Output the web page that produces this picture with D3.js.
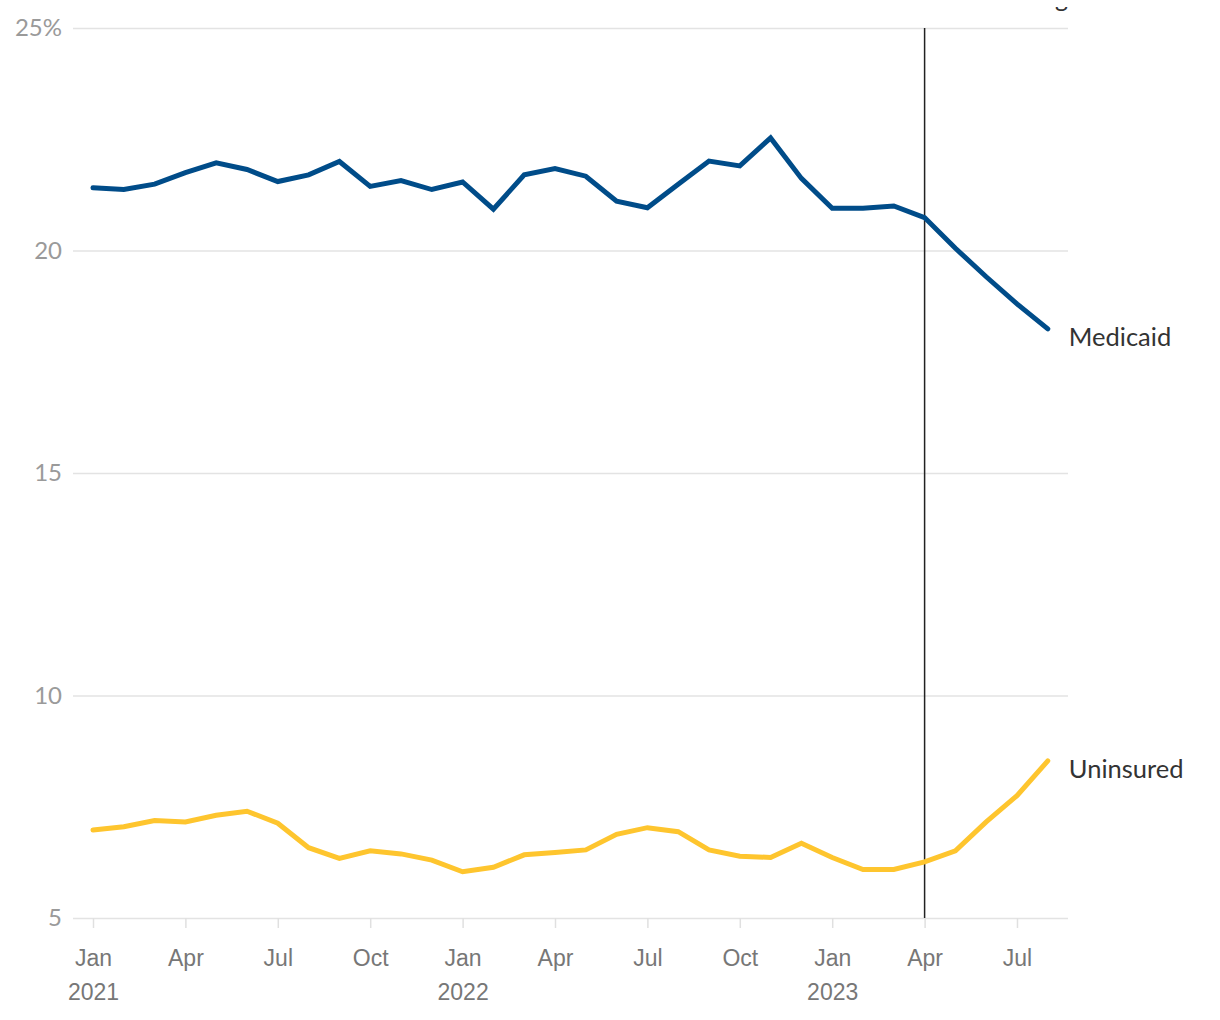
<!DOCTYPE html>
<html>
<head>
<meta charset="utf-8">
<script src="https://cdn.jsdelivr.net/npm/d3@7"></script>
<style>
  html, body { margin: 0; padding: 0; background: #fff; }
  svg { display: block; font-family: Lato, "Noto Sans", sans-serif; }
</style>
</head>
<body>
<svg id="chart" width="1220" height="1020"></svg>
<script>
// Month index 0 = Jan 2021 ... 31 = Aug 2023
const months = d3.range(0, 32);
const medicaid = [21.41, 21.37, 21.49, 21.75, 21.97, 21.82, 21.55, 21.70, 22.00, 21.44,
                  21.57, 21.37, 21.54, 20.93, 21.70, 21.84, 21.67, 21.11, 20.96, 21.49,
                  22.01, 21.90, 22.53, 21.62, 20.95, 20.95, 21.00, 20.74, 20.05, 19.41,
                  18.80, 18.24];
const uninsured = [6.98, 7.05, 7.19, 7.16, 7.31, 7.40, 7.13, 6.58, 6.34, 6.51,
                   6.44, 6.30, 6.04, 6.14, 6.42, 6.47, 6.53, 6.88, 7.03, 6.94,
                   6.53, 6.39, 6.36, 6.68, 6.36, 6.09, 6.09, 6.26, 6.51, 7.16,
                   7.75, 8.53];
const seriesNames = ["Medicaid", "Uninsured"];
const seriesColors = ["#004c89", "#fec52e"];
const yTicks = [5, 10, 15, 20, 25];
const xTicks = [0, 3, 6, 9, 12, 15, 18, 21, 24, 27, 30];
const monthNames = ["Jan", "Feb", "Mar", "Apr", "May", "Jun", "Jul", "Aug", "Sep", "Oct", "Nov", "Dec"];
const markerMonth = 27; // Apr 2023
const markerLabel = "Medicaid unwinding";

const svg = d3.select("#chart");
const mLeft = 73, mRight = 1068, mTop = 28, mBottom = 918;

const x = d3.scaleLinear().domain([0, 30]).range([93, 1017]);
const y = d3.scaleLinear().domain([5, 25]).range([mBottom, mTop]);

// gridlines + y labels
const yAxis = d3.axisLeft(y).tickValues(yTicks)
  .tickSize(-(mRight - mLeft))
  .tickFormat(d => d === 25 ? d + "%" : d)
  .tickPadding(11);
const gy = svg.append("g").attr("transform", `translate(${mLeft},0)`).call(yAxis);
gy.select(".domain").remove();
gy.selectAll(".tick line").attr("stroke", "#e3e3e3").attr("stroke-width", 1.5);
gy.selectAll(".tick text").attr("fill", "#9a9a9a").style("font-size", "24px")
  .style("font-family", "Lato, sans-serif");

// x axis
const xAxis = d3.axisBottom(x).tickValues(xTicks).tickSize(10).tickFormat("");
const gx = svg.append("g").attr("transform", `translate(0,${mBottom})`).call(xAxis);
gx.select(".domain").remove();
gx.selectAll(".tick line").attr("stroke", "#e0e0e0").attr("stroke-width", 1.5);
const tickG = gx.selectAll(".tick");
tickG.append("text")
  .attr("y", 48).attr("text-anchor", "middle").attr("fill", "#777")
  .style("font-size", "23px")
  .text(d => monthNames[d % 12]);
tickG.filter(d => d % 12 === 0).append("text")
  .attr("y", 82).attr("text-anchor", "middle").attr("fill", "#777")
  .style("font-size", "23px")
  .text(d => 2021 + d / 12);

// marker line
svg.append("line")
  .attr("x1", x(markerMonth)).attr("x2", x(markerMonth))
  .attr("y1", mTop).attr("y2", mBottom)
  .attr("stroke", "#222").attr("stroke-width", 1.5);

// clipped annotation (only descender visible at top, as in the reference)
svg.append("defs").append("clipPath").attr("id", "annClip")
  .append("rect").attr("x", 0).attr("y", 7).attr("width", 1220).attr("height", 30);
svg.append("text")
  .attr("clip-path", "url(#annClip)")
  .attr("x", mRight).attr("y", 7).attr("text-anchor", "end")
  .attr("fill", "#333").style("font-size", "25px")
  .text(markerLabel);

// lines
const line = d3.line().x((d, i) => x(months[i])).y(d => y(d));
[medicaid, uninsured].forEach((vals, k) => {
  svg.append("path")
    .datum(vals)
    .attr("d", line)
    .attr("fill", "none")
    .attr("stroke", seriesColors[k])
    .attr("stroke-width", 5)
    .attr("stroke-linejoin", "miter")
    .attr("stroke-linecap", "round");
  svg.append("text")
    .attr("x", x(months[vals.length - 1]) + 21)
    .attr("y", y(vals[vals.length - 1]) + 8)
    .attr("dy", "0.35em")
    .attr("fill", "#333")
    .style("font-size", "25.5px")
    .text(seriesNames[k]);
});
</script>
</body>
</html>
